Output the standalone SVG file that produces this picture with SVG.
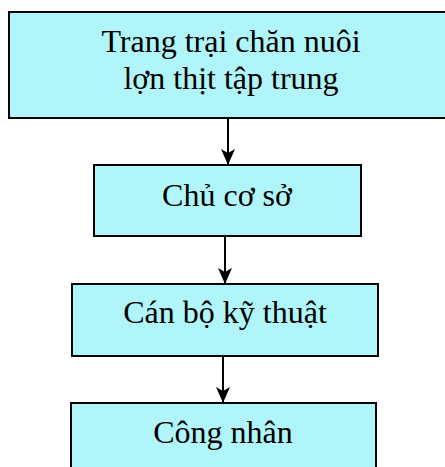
<svg xmlns="http://www.w3.org/2000/svg" width="445" height="467" viewBox="0 0 445 467">
  <style>
    .box { fill: #B0F5FA; stroke: #000; stroke-width: 2; }
    .label { font-family: "Liberation Serif", "Times New Roman", serif; font-size: 32px; fill: #000; text-anchor: middle; }
    .link { stroke: #000; stroke-width: 2; fill: none; marker-end: url(#arrow); }
  </style>
  <defs>
    <marker id="arrow" viewBox="0 0 16 14" refX="15" refY="7" markerWidth="16" markerHeight="14" markerUnits="userSpaceOnUse" orient="auto">
      <path d="M0,0 L16,7 L0,14 L4,7 Z" fill="#000"/>
    </marker>
  </defs>
  <rect width="445" height="467" fill="#fff"/>

  <g id="connectors">
    <line class="link" x1="228" y1="119" x2="228" y2="164"/>
    <line class="link" x1="225" y1="237" x2="225" y2="283"/>
    <line class="link" x1="223" y1="357" x2="223" y2="402"/>
  </g>

  <g id="node-farm">
    <rect class="box" x="9" y="12" width="445" height="106"/>
    <text class="label" x="231" y="52">Trang trại chăn nuôi</text>
    <text class="label" x="231" y="89">lợn thịt tập trung</text>
  </g>

  <g id="node-owner">
    <rect class="box" x="94" y="165" width="267" height="71"/>
    <text class="label" x="227" y="206">Chủ cơ sở</text>
  </g>

  <g id="node-technician">
    <rect class="box" x="72" y="284" width="306" height="72"/>
    <text class="label" x="225" y="323">Cán bộ kỹ thuật</text>
  </g>

  <g id="node-worker">
    <rect class="box" x="71" y="403" width="305" height="80"/>
    <text class="label" x="223" y="443">Công nhân</text>
  </g>
</svg>
